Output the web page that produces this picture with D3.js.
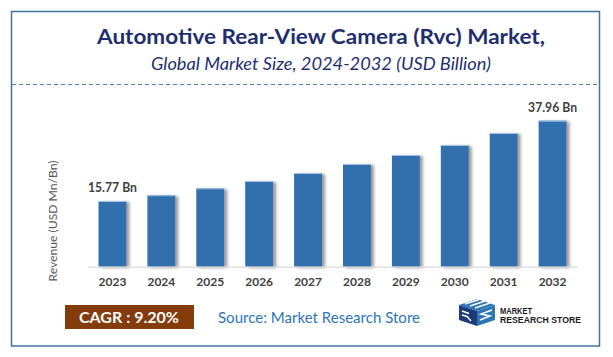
<!DOCTYPE html>
<html>
<head>
<meta charset="utf-8">
<script src="https://cdn.jsdelivr.net/npm/d3@7"></script>
<style>
  html, body { margin: 0; padding: 0; background: #fff; }
  svg { display: block; }
</style>
</head>
<body>
<svg id="chart" width="613" height="357"></svg>
<script>
// ---- data ----
const years = ["2023","2024","2025","2026","2027","2028","2029","2030","2031","2032"];
const revenue = [15.77, 17.14, 18.82, 20.57, 22.49, 24.65, 26.81, 29.21, 32.09, 35.05];
const valueLabels = ["15.77 Bn", "", "", "", "", "", "", "", "", "37.96 Bn"];
const titleText = "Automotive Rear-View Camera (Rvc) Market,";
const subtitleText = "Global Market Size, 2024-2032 (USD Billion)";
const yAxisTitle = "Revenue (USD Mn/Bn)";
const cagrText = "CAGR : 9.20%";
const sourceText = "Source: Market Research Store";
const logoLines = ["MARKET", "RESEARCH STORE"];

const svg = d3.select("#chart");
const font = "Lato, 'Open Sans', sans-serif";

// defs: shadow
const defs = svg.append("defs");
const f = defs.append("filter").attr("id", "shadow")
  .attr("x", "-20%").attr("y", "-10%").attr("width", "160%").attr("height", "130%");
f.append("feDropShadow").attr("dx", 3).attr("dy", 1).attr("stdDeviation", 1.6)
  .attr("flood-color", "#000").attr("flood-opacity", 0.4);

// frame
svg.append("rect").attr("x", 11.5).attr("y", 11.5).attr("width", 588).attr("height", 334.5)
  .attr("fill", "#fff").attr("stroke", "#41719C").attr("stroke-width", 1.5);
svg.append("line").attr("x1", 12).attr("x2", 599).attr("y1", 84.5).attr("y2", 84.5)
  .attr("stroke", "#4F81C7").attr("stroke-width", 1).attr("stroke-dasharray", "4,3");

// titles
svg.append("text").attr("x", 321).attr("y", 44).attr("text-anchor", "middle")
  .attr("font-family", font).attr("font-weight", 700).attr("font-size", 21)
  .attr("fill", "#1F2F6E").attr("textLength", 448).attr("lengthAdjust", "spacingAndGlyphs")
  .text(titleText);
svg.append("text").attr("x", 321).attr("y", 70).attr("text-anchor", "middle")
  .attr("font-family", font).attr("font-style", "italic").attr("font-size", 16.5)
  .attr("fill", "#1F2F6E").attr("textLength", 340).attr("lengthAdjust", "spacingAndGlyphs")
  .text(subtitleText);

// scales
const x = d3.scaleBand().domain(years).range([88, 577]).paddingInner(0.43).paddingOuter(0.215);
const y = d3.scaleLinear().domain([0, 40]).range([266.7, 266.7 - 40 * 4.166]);

// bars
const data = years.map((yr, i) => ({ yr, v: revenue[i], label: valueLabels[i] }));
svg.append("g").selectAll("rect").data(data).join("rect")
  .attr("x", d => x(d.yr)).attr("y", d => y(d.v))
  .attr("width", x.bandwidth()).attr("height", d => y(0) - y(d.v))
  .attr("fill", "#3070AD").attr("filter", "url(#shadow)");
svg.append("g").selectAll("line").data(data).join("line")
  .attr("x1", d => x(d.yr)).attr("x2", d => x(d.yr) + x.bandwidth())
  .attr("y1", d => y(d.v) + 0.5).attr("y2", d => y(d.v) + 0.5)
  .attr("stroke", "#9DC3E6").attr("stroke-width", 1);

// x axis
const xAxis = d3.axisBottom(x).tickSize(0).tickPadding(11);
const gx = svg.append("g").attr("transform", `translate(0,${y(0)})`).call(xAxis);
gx.select(".domain").attr("stroke", "#D9D9D9").attr("stroke-width", 1.2);
gx.selectAll("text").attr("font-family", font).attr("font-weight", 700)
  .attr("font-size", 12).attr("fill", "#404040");

// value labels
svg.append("g").selectAll("text").data(data.filter(d => d.label)).join("text")
  .attr("x", d => x(d.yr) + x.bandwidth() / 2).attr("y", d => y(d.v) - 9)
  .attr("text-anchor", "middle").attr("font-family", font).attr("font-weight", 700)
  .attr("font-size", 12.5).attr("fill", "#404040")
  .attr("textLength", 49).attr("lengthAdjust", "spacingAndGlyphs")
  .text(d => d.label);

// y axis title
svg.append("text").attr("transform", "translate(57,221) rotate(-90)")
  .attr("text-anchor", "middle").attr("font-family", font).attr("font-size", 12)
  .attr("fill", "#595959").attr("textLength", 121).attr("lengthAdjust", "spacingAndGlyphs")
  .text(yAxisTitle);

// CAGR box
svg.append("rect").attr("x", 65).attr("y", 305).attr("width", 129).attr("height", 24)
  .attr("fill", "#843C0C");
svg.append("text").attr("x", 129).attr("y", 323).attr("text-anchor", "middle")
  .attr("font-family", font).attr("font-weight", 700).attr("font-size", 15.5)
  .attr("fill", "#fff").attr("textLength", 100).attr("lengthAdjust", "spacingAndGlyphs")
  .text(cagrText);

// source
svg.append("text").attr("x", 218).attr("y", 323)
  .attr("font-family", font).attr("font-size", 15).attr("fill", "#2E75B6")
  .attr("textLength", 202).attr("lengthAdjust", "spacingAndGlyphs")
  .text(sourceText);

// logo icon (simplified cube with RS stripes)
const logo = svg.append("g").attr("transform", "translate(457,299)");
logo.append("path").attr("d", "M2,6 L20,0 L38,6 L20,12 Z").attr("fill", "#2E75B6");
logo.append("path").attr("d", "M2,6 L20,12 L20,27 L2,21 Z").attr("fill", "#1F3A7A");
logo.append("path").attr("d", "M20,12 L38,6 L38,21 L20,27 Z").attr("fill", "#2E75B6");
logo.append("path").attr("d", "M8,5 L22,0.5 M13,7 L28,2 M18,9 L33,4").attr("stroke", "#fff").attr("stroke-width", 1.4);
logo.append("path").attr("d", "M5,12 L12,14.5 M5,16 L10,17.5 L14,22").attr("stroke", "#fff").attr("stroke-width", 1.5).attr("fill", "none");
logo.append("path").attr("d", "M35,11 L24,15 L33,17 L23,21").attr("stroke", "#fff").attr("stroke-width", 1.5).attr("fill", "none");
svg.append("g").selectAll("text").data(logoLines).join("text")
  .attr("x", 500).attr("y", (d, i) => 313.5 + i * 9.5)
  .attr("font-family", "'Liberation Sans', Arial, sans-serif").attr("font-weight", 700)
  .attr("font-size", 9.5).attr("fill", "#1a1a1a")
  .attr("textLength", (d, i) => i === 0 ? 32 : 81).attr("lengthAdjust", "spacingAndGlyphs")
  .text(d => d);
</script>
</body>
</html>
